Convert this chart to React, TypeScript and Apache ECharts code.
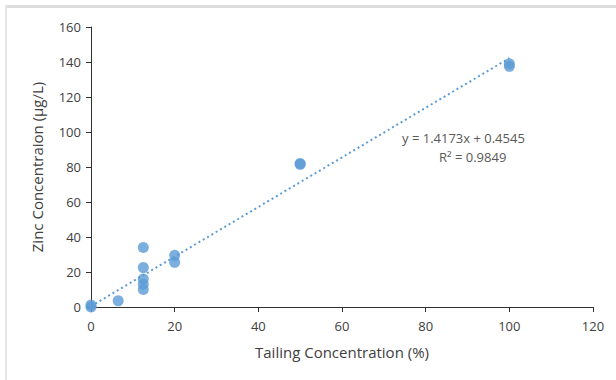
import React, { useEffect, useRef } from "react";
import * as echarts from "echarts";

// Measured samples: tailing concentration (%) vs zinc concentration (µg/L)
const tailingPct = [0, 0, 6.5, 12.5, 12.5, 12.5, 12.5, 12.5, 20, 20, 50, 50, 100, 100];
const zincUgL = [0, 1.2, 3.5, 34, 22.5, 16, 13, 10, 29.5, 25.5, 82, 81.5, 139, 137.5];

// Linear fit reported on the chart
const slope = 1.4173;
const intercept = 0.4545;
const rSquared = 0.9849;
const fitRange = [0, 100];

const xTicks = { min: 0, max: 120, interval: 20 };
const yTicks = { min: 0, max: 160, interval: 20 };

const FONT = "'Open Sans', sans-serif";
const BLUE = "#5B9BD5";

export default function App() {
  const ref = useRef<HTMLDivElement>(null);

  useEffect(() => {
    if (!ref.current) return;
    const chart = echarts.init(ref.current, undefined, { renderer: "svg" });
    const points = tailingPct.map((x, i) => [x, zincUgL[i]]);
    const fitLine = fitRange.map((x) => [x, slope * x + intercept]);

    chart.setOption({
      animation: false,
      backgroundColor: "#ffffff",
      grid: { left: 91, right: 23, top: 27, bottom: 73 },
      xAxis: {
        type: "value",
        min: xTicks.min,
        max: xTicks.max,
        interval: xTicks.interval,
        name: "Tailing Concentration (%)",
        nameLocation: "middle",
        nameGap: 37,
        nameTextStyle: { fontFamily: FONT, fontSize: 15, color: "#404040" },
        axisLine: { lineStyle: { color: "#303030", width: 1 } },
        axisTick: { show: true, length: 5, lineStyle: { color: "#303030" } },
        axisLabel: { fontFamily: FONT, fontSize: 13, color: "#404040", margin: 12 },
        splitLine: { show: false },
      },
      yAxis: {
        type: "value",
        min: yTicks.min,
        max: yTicks.max,
        interval: yTicks.interval,
        name: "Zinc Concentraion (µg/L)",
        nameLocation: "middle",
        nameGap: 47,
        nameTextStyle: { fontFamily: FONT, fontSize: 15, color: "#404040" },
        axisLine: { show: true, lineStyle: { color: "#303030", width: 1 } },
        axisTick: { show: true, length: 5, lineStyle: { color: "#303030" } },
        axisLabel: { fontFamily: FONT, fontSize: 13, color: "#404040", margin: 10 },
        splitLine: { show: false },
      },
      series: [
        {
          type: "line",
          data: fitLine,
          showSymbol: false,
          symbol: "none",
          lineStyle: { color: BLUE, width: 2, type: [2, 3] },
          z: 1,
        },
        {
          type: "scatter",
          data: points,
          symbol: "circle",
          symbolSize: 11,
          itemStyle: { color: BLUE },
          z: 2,
        },
      ],
      graphic: [
        { type: "rect", shape: { x: 5, y: 5, width: 611, height: 3 }, style: { fill: "#dcdcdc" } },
        { type: "rect", shape: { x: 5, y: 5, width: 2, height: 375 }, style: { fill: "#e6e6e6" } },
        {
          type: "text",
          left: 402,
          top: 131,
          style: {
            text: `y = ${slope}x + ${intercept}`,
            fontFamily: FONT,
            fontSize: 13,
            fill: "#595959",
          },
        },
        {
          type: "text",
          left: 439,
          top: 150,
          style: {
            text: `R² = ${rSquared}`,
            fontFamily: FONT,
            fontSize: 13,
            fill: "#595959",
          },
        },
      ],
    });
    return () => chart.dispose();
  }, []);

  return (
    <div
      ref={ref}
      style={{ position: "fixed", left: 0, top: 0, width: 616, height: 380 }}
    />
  );
}
